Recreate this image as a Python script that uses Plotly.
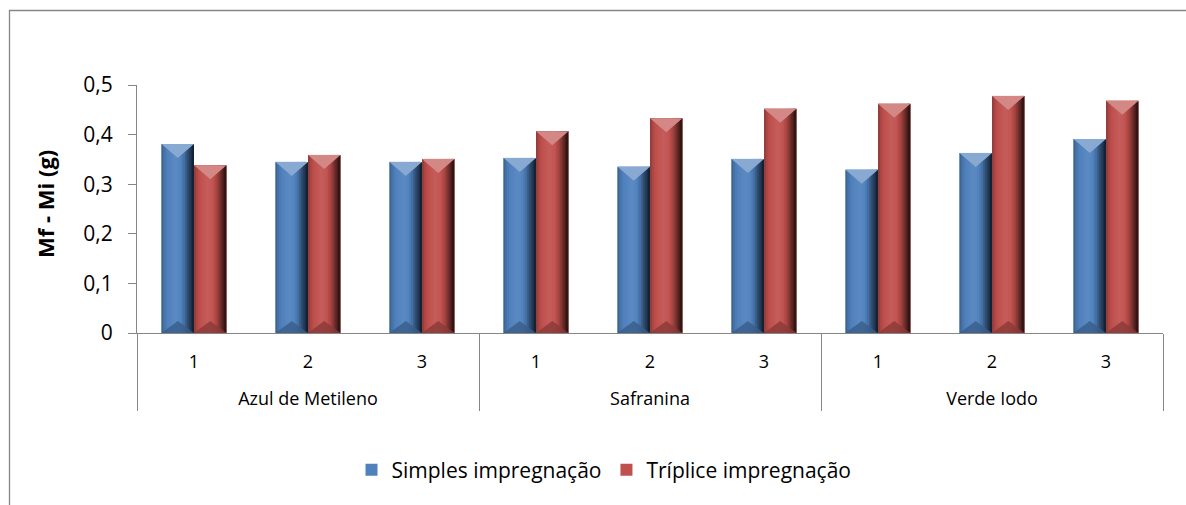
import plotly.graph_objects as go
import numpy as np

# ---- data -------------------------------------------------------------
corantes = ["Azul de Metileno", "Safranina", "Verde Iodo"]
repeticoes = ["1", "2", "3"]
simples = [0.381, 0.345, 0.345, 0.353, 0.335, 0.351, 0.329, 0.363, 0.391]
triplice = [0.338, 0.359, 0.351, 0.407, 0.433, 0.452, 0.462, 0.478, 0.468]
series_names = ["Simples impregnação", "Tríplice impregnação"]
y_title = "Mf - Mi (g)"

# ---- geometry / style -------------------------------------------------
W, H = 1186, 505
ML, MR, MT, MB = 137, 23, 85, 172
Y_MAX = 0.5
BAR_W = 0.285
FONT = "Open Sans"
AXIS_GRAY = "#868686"
BASE_COLORS = ["#4F81BD", "#C0504D"]

plot_h = H - MT - MB
plot_w = W - ML - MR
units_per_px = Y_MAX / plot_h

# outer level labels sit one blank line lower than the replicate numbers
grp = ["<br>" + g for g in corantes for _ in repeticoes]
sub = [r for _ in corantes for r in repeticoes]
idx = np.arange(len(sub))


def hex_rgb(h):
    h = h.lstrip("#")
    return np.array([int(h[i:i + 2], 16) for i in (0, 2, 4)], dtype=float)


def shade(h, f):
    c = hex_rgb(h)
    if f <= 1:
        c = c * f
    else:
        c = c + (255 - c) * (f - 1)
    c = np.clip(c, 0, 255).astype(int)
    return "rgb(%d,%d,%d)" % tuple(c)


# horizontal light profile across a bevelled bar (left -> right)
prof_u = [0.00, 0.06, 0.18, 0.42, 0.58, 0.70, 0.80, 0.90, 1.00]
prof_f = [0.70, 0.86, 1.00, 1.08, 1.03, 0.86, 0.62, 0.40, 0.22]
N_STRIPS = 18

fig = go.Figure()

# main bars (also give the legend swatches)
for k, (vals, name, col) in enumerate(zip([simples, triplice], series_names, BASE_COLORS)):
    fig.add_trace(go.Bar(
        x=[grp, sub], y=vals, name=name,
        offset=-BAR_W + k * BAR_W, width=BAR_W,
        marker=dict(color=col, line=dict(width=0)),
        hoverinfo="skip",
    ))

# shading strips on an overlaid numeric axis
pitch = BAR_W / N_STRIPS
for k, (vals, col) in enumerate(zip([simples, triplice], BASE_COLORS)):
    left = -BAR_W + k * BAR_W
    for s in range(N_STRIPS):
        u = (s + 0.5) / N_STRIPS
        f = float(np.interp(u, prof_u, prof_f))
        fig.add_trace(go.Bar(
            x=idx, y=vals, xaxis="x2",
            offset=left + s * pitch, width=pitch * 1.2 if s < N_STRIPS - 1 else pitch,
            marker=dict(color=shade(col, f), line=dict(width=0)),
            showlegend=False, hoverinfo="skip",
        ))

# bevel facets: light chevron at the top, darker one at the foot
TOP_PX, FOOT_PX = 14, 12
for k, (vals, col) in enumerate(zip([simples, triplice], BASE_COLORS)):
    left = -BAR_W + k * BAR_W
    tx, ty, bx, by = [], [], [], []
    for i, v in zip(idx, vals):
        xl, xr = i + left, i + left + BAR_W
        xc = (xl + xr) / 2
        tx += [xl, xr, xc, xl, None]
        ty += [v, v, v - TOP_PX * units_per_px, v, None]
        bx += [xl, xr, xc, xl, None]
        by += [0, 0, FOOT_PX * units_per_px, 0, None]
    fig.add_trace(go.Scatter(
        x=tx, y=ty, xaxis="x2", mode="lines", fill="toself",
        fillcolor=shade(col, 1.32), line=dict(width=0),
        showlegend=False, hoverinfo="skip",
    ))
    fig.add_trace(go.Scatter(
        x=bx, y=by, xaxis="x2", mode="lines", fill="toself",
        fillcolor=shade(col, 0.72), opacity=0.8, line=dict(width=0),
        showlegend=False, hoverinfo="skip",
    ))


# pixel -> paper helpers for the frame and the rotated axis title
def px_x(p):
    return (p - ML) / plot_w


def px_y(p):
    return (H - MB - p) / plot_h


# outer frame (only its left and top edges fall inside the page)
fig.add_shape(type="rect", xref="paper", yref="paper",
              x0=px_x(9.5), x1=px_x(W + 200), y0=px_y(10.5), y1=px_y(H + 200),
              line=dict(color=AXIS_GRAY, width=1.3), layer="below")

fig.add_annotation(
    text="<b>%s</b>" % y_title, xref="paper", yref="paper",
    x=px_x(45), y=px_y(204), xanchor="center", yanchor="middle",
    textangle=-90, showarrow=False,
    font=dict(family=FONT, size=22, color="#000000"),
)

fig.update_layout(
    width=W, height=H,
    margin=dict(l=ML, r=MR, t=MT, b=MB),
    paper_bgcolor="white", plot_bgcolor="white",
    barmode="overlay",
    separators=",.",
    font=dict(family=FONT, color="#000000"),
    showlegend=True,
    legend=dict(
        orientation="h", xref="container", yref="container",
        x=604 / W, xanchor="center", y=(H - 470) / H, yanchor="middle",
        font=dict(size=21, family=FONT, color="#000000"),
        itemwidth=30, traceorder="normal",
    ),
    xaxis=dict(
        type="multicategory", range=[-0.5, len(sub) - 0.5],
        showline=True, linecolor=AXIS_GRAY, linewidth=1.3,
        showgrid=False, zeroline=False, ticks="",
        showdividers=True, dividercolor=AXIS_GRAY, dividerwidth=1.3,
        ticklabelstandoff=12,
        tickfont=dict(size=18, family=FONT, color="#000000"),
    ),
    xaxis2=dict(
        overlaying="x", range=[-0.5, len(sub) - 0.5], visible=False,
    ),
    yaxis=dict(
        range=[0, Y_MAX], dtick=0.1, showgrid=False, zeroline=False,
        showline=True, linecolor=AXIS_GRAY, linewidth=1.3,
        ticks="outside", ticklen=8, tickcolor=AXIS_GRAY, tickwidth=1.3,
        ticklabelstandoff=11,
        tickfont=dict(size=21, family=FONT, color="#000000"),
    ),
)

fig.write_html("out.html")
